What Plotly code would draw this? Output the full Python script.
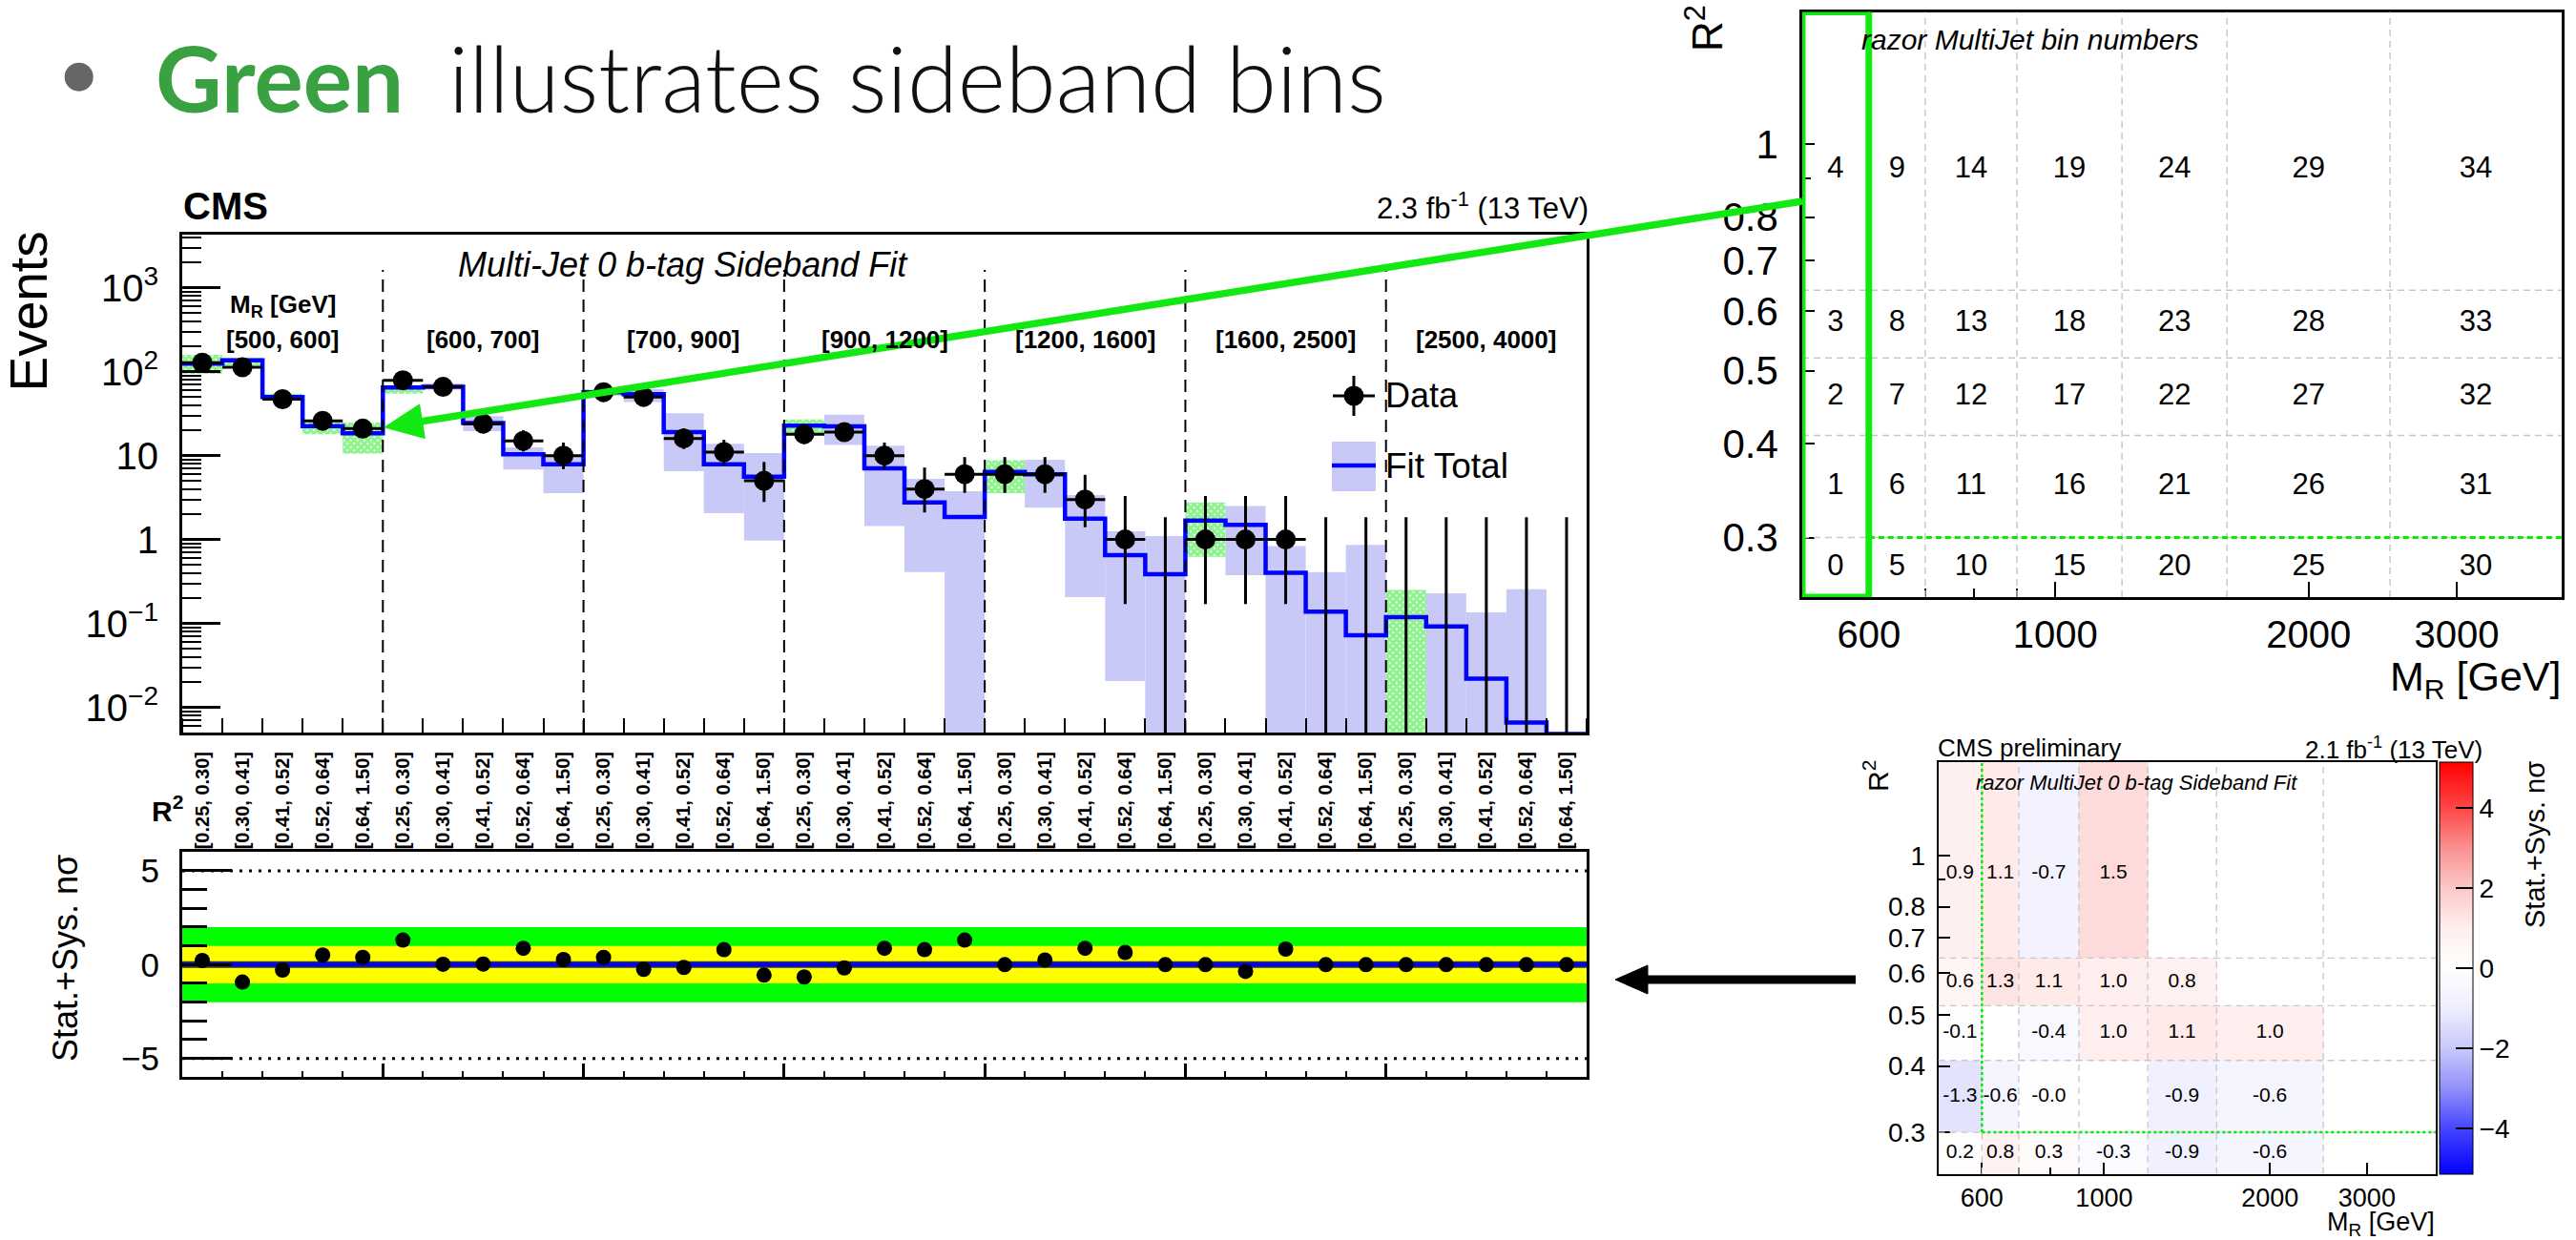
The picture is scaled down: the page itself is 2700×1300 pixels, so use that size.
import math
import plotly.graph_objects as go

W, H = 2700, 1300

# ---------------- binning ----------------
mr_bins = ["[500, 600]", "[600, 700]", "[700, 900]", "[900, 1200]",
           "[1200, 1600]", "[1600, 2500]", "[2500, 4000]"]
r2_bins = ["[0.25, 0.30]", "[0.30, 0.41]", "[0.41, 0.52]", "[0.52, 0.64]", "[0.64, 1.50]"]
mr_edges = [500, 600, 700, 900, 1200, 1600, 2500, 4000]
r2_edges = [0.25, 0.30, 0.41, 0.52, 0.64, 1.5]

# ---------------- 1D unrolled fit (35 bins) ----------------
data_counts = [128, 113, 47, 26, 21, 79, 66, 24, 15, 10, 57, 50, 16, 11, 5,
               18, 19, 10, 4, 6, 6, 6, 3, 1, 0, 1, 1, 1, 0, 0, 0, 0, 0, 0, 0]
data_err_lo = [11.2, 10.6, 6.8, 5.1, 4.6, 8.9, 8.1, 4.9, 3.8, 3.1, 7.5, 7.1, 4.0, 3.3, 2.2,
               4.2, 4.3, 3.1, 1.9, 2.4, 2.4, 2.4, 1.6, 0.83, 0.0, 0.83, 0.83, 0.83,
               0.0, 0.0, 0.0, 0.0, 0.0, 0.0, 0.0]
data_err_hi = [12.3, 11.6, 7.9, 6.1, 5.6, 9.9, 9.1, 5.9, 5.0, 4.3, 8.6, 8.1, 5.1, 4.4, 3.4,
               5.3, 5.4, 4.3, 3.2, 3.6, 3.6, 3.6, 2.9, 2.3, 1.84, 2.3, 2.3, 2.3,
               1.84, 1.84, 1.84, 1.84, 1.84, 1.84, 1.84]
fit_total = [125, 137, 50, 22.4, 18.5, 65, 66, 24.4, 10.4, 7.9, 57, 54, 19, 7.9, 5.6,
             22.8, 22.3, 7.05, 2.77, 1.86, 6.37, 6.0, 1.77, 0.65, 0.386, 1.68, 1.49, 0.40,
             0.138, 0.072, 0.119, 0.092, 0.022, 0.0066, 0.0048]
# fit uncertainty band; 0.001 means the band runs below the axis floor
band_lo = [94, 119, 46, 18, 10.6, 54.5, 61, 19.6, 6.8, 3.56, 52, 43.5, 6.5, 2.06, 0.97,
           18.6, 13.4, 1.45, 0.41, 0.001, 3.56, 2.39, 0.206, 0.0206, 0.001, 0.62, 0.375, 0.001,
           0.001, 0.001, 0.001, 0.001, 0.001, 0.001, None]
band_hi = [159, 146, 54.5, 25.5, 24.7, 66.5, 72.6, 29.5, 12.5, 9.7, 62, 62, 32, 13.8, 10.7,
           27, 30.7, 13.1, 5.3, 3.75, 8.8, 8.95, 3.39, 1.25, 1.1, 2.77, 2.51, 0.835,
           0.41, 0.86, 0.25, 0.228, 0.135, 0.256, None]
pulls = [0.22, -0.93, -0.29, 0.51, 0.39, 1.31, 0.02, 0.03, 0.87, 0.27, 0.39, -0.25, -0.15, 0.80,
         -0.56, -0.66, -0.18, 0.87, 0.80, 1.31, 0.0, 0.25, 0.87, 0.65, 0.0, 0.0, -0.36, 0.83,
         0.0, 0.0, 0.0, 0.0, 0.0, 0.0, 0.0]

# ---------------- 2D maps (rows: R2 bins, columns: MR bins) ----------------
bin_numbers = [
    [0, 5, 10, 15, 20, 25, 30],
    [1, 6, 11, 16, 21, 26, 31],
    [2, 7, 12, 17, 22, 27, 32],
    [3, 8, 13, 18, 23, 28, 33],
    [4, 9, 14, 19, 24, 29, 34],
]
pull_map = [
    [0.2, 0.8, 0.3, -0.3, -0.9, -0.6, None],
    [-1.3, -0.6, -0.04, None, -0.9, -0.6, None],
    [-0.1, None, -0.4, 1.0, 1.1, 1.0, None],
    [0.6, 1.3, 1.1, 1.0, 0.8, None, None],
    [0.9, 1.1, -0.7, 1.5, None, None, None],
]

# ---------------- helpers ----------------
FONT = "Liberation Sans"
GREEN = "#12e812"
LAV = "#c9c9f7"
AXIS_FLOOR = 1e-3


def px(x):
    return x / W


def py(y):
    return 1 - y / H


n_mr, n_r2 = len(mr_bins), len(r2_bins)
nb = n_mr * n_r2
centers = [k + 0.5 for k in range(nb)]
tick_text = [r for m in mr_bins for r in r2_bins]
sideband = [(k // n_r2 == 0) or (k % n_r2 == 0) for k in range(nb)]

fig = go.Figure()

# ---------------- main panel ----------------
blue_k = [k for k in range(nb) if not sideband[k] and band_lo[k] is not None]
green_k = [k for k in range(nb) if sideband[k] and band_lo[k] is not None]

fig.add_trace(go.Bar(
    x=[centers[k] for k in blue_k], base=[band_lo[k] for k in blue_k],
    y=[band_hi[k] - band_lo[k] for k in blue_k], width=1,
    marker=dict(color=LAV, line=dict(width=0)), xaxis="x", yaxis="y",
    showlegend=False, hoverinfo="skip"))
fig.add_trace(go.Bar(
    x=[centers[k] for k in green_k], base=[band_lo[k] for k in green_k],
    y=[band_hi[k] - band_lo[k] for k in green_k], width=1,
    marker=dict(color="rgba(0,0,0,0)", line=dict(width=0),
                pattern=dict(shape="x", fgcolor="#1ee81e", bgcolor="rgba(255,255,255,0)",
                             size=5, solidity=0.85)),
    xaxis="x", yaxis="y", showlegend=False, hoverinfo="skip"))

fig.add_trace(go.Scatter(
    x=list(range(nb + 1)), y=fit_total + [fit_total[-1]], mode="lines",
    line=dict(color="#0000ff", width=4.5, shape="hv"),
    xaxis="x", yaxis="y", showlegend=False, hoverinfo="skip"))

ex, ey = [], []
for k, n in enumerate(data_counts):
    c = centers[k]
    lo = n - data_err_lo[k] if n > 0 else AXIS_FLOOR
    ex += [c, c, None]
    ey += [lo, n + data_err_hi[k], None]
    if n > 0:
        ex += [k, k + 1, None]
        ey += [n, n, None]
fig.add_trace(go.Scatter(x=ex, y=ey, mode="lines", line=dict(color="black", width=3),
                         xaxis="x", yaxis="y", showlegend=False, hoverinfo="skip"))
nz = [k for k in range(nb) if data_counts[k] > 0]
fig.add_trace(go.Scatter(x=[centers[k] for k in nz], y=[data_counts[k] for k in nz],
                         mode="markers", marker=dict(color="black", size=21),
                         xaxis="x", yaxis="y", showlegend=False, hoverinfo="skip"))

# ---------------- pull panel ----------------
fig.add_trace(go.Scatter(x=centers, y=pulls, mode="markers",
                         marker=dict(color="black", size=16),
                         xaxis="x2", yaxis="y2", showlegend=False, hoverinfo="skip"))

# ---------------- bin-number panel ----------------
def gmean(a, b):
    return math.sqrt(a * b)


mr_mid = [gmean(mr_edges[i], mr_edges[i + 1]) for i in range(n_mr)]
r2_mid = [gmean(r2_edges[j], r2_edges[j + 1]) for j in range(n_r2 - 1)] + [0.925]

tx, ty, tt = [], [], []
for j in range(n_r2):
    for i in range(n_mr):
        tx.append(mr_mid[i])
        ty.append(r2_mid[j])
        tt.append(str(bin_numbers[j][i]))
fig.add_trace(go.Scatter(x=tx, y=ty, text=tt, mode="text",
                         textfont=dict(family=FONT, size=31, color="black"),
                         xaxis="x3", yaxis="y3", showlegend=False, hoverinfo="skip"))

# ---------------- pull map panel ----------------
colorscale_pts = [(-5.15, (0, 0, 255)), (-4, (70, 70, 255)), (-3, (145, 145, 250)),
                  (-2, (200, 200, 252)), (-1, (238, 238, 255)), (0, (255, 255, 255)),
                  (1, (255, 238, 238)), (2, (252, 200, 200)), (3, (250, 145, 145)),
                  (4, (255, 70, 70)), (5.15, (255, 0, 0))]
ZMIN, ZMAX = -5.15, 5.15
cscale = [[(v - ZMIN) / (ZMAX - ZMIN), "rgb(%d,%d,%d)" % c] for v, c in colorscale_pts]

fig.add_trace(go.Heatmap(
    x=mr_edges, y=r2_edges, z=pull_map, colorscale=cscale, zmin=ZMIN, zmax=ZMAX,
    xaxis="x4", yaxis="y4", hoverinfo="skip", xgap=0, ygap=0,
    colorbar=dict(x=px(2556.6), xanchor="left", thickness=35, thicknessmode="pixels",
                  len=(1231 - 799) / H, lenmode="fraction", y=py(1015), yanchor="middle",
                  tickvals=[-4, -2, 0, 2, 4], ticktext=["\u22124", "\u22122", "0", "2", "4"],
                  ticks="inside", ticklen=18, tickwidth=2, tickcolor="black",
                  outlinewidth=1, outlinecolor="black", xpad=0, ypad=0,
                  tickfont=dict(family=FONT, size=28, color="black"))))

hx, hy, ht = [], [], []
for j in range(n_r2):
    for i in range(n_mr):
        v = pull_map[j][i]
        if v is not None:
            hx.append(mr_mid[i])
            hy.append(r2_mid[j])
            ht.append(f"{v:.1f}")
fig.add_trace(go.Scatter(x=hx, y=hy, text=ht, mode="text",
                         textfont=dict(family=FONT, size=21, color="black"),
                         xaxis="x4", yaxis="y4", showlegend=False, hoverinfo="skip"))

# ---------------- axes ----------------
main_dom_x = [px(191), px(1663)]
ax_common = dict(showgrid=False, zeroline=False, showline=True, linecolor="black",
                 mirror=True, tickcolor="black")

y_major = [0.01, 0.1, 1, 10, 100, 1000]
y_major_txt = ["10<sup>\u22122</sup>", "10<sup>\u22121</sup>", "1", "10",
               "10<sup>2</sup>", "10<sup>3</sup>"]
y_minor = [m * 10 ** e for e in range(-3, 4) for m in range(2, 10)]

fig.update_layout(
    width=W, height=H, margin=dict(l=0, r=0, t=0, b=0), autosize=False,
    paper_bgcolor="white", plot_bgcolor="rgba(0,0,0,0)", barmode="overlay",
    showlegend=False,
    xaxis=dict(**ax_common, domain=main_dom_x, range=[0, nb], linewidth=3,
               tickmode="array", tickvals=centers, ticktext=tick_text, ticks="",
               tickangle=-90, ticklabelstandoff=9,
               tickfont=dict(family=FONT, size=20, color="black", weight="bold"),
               minor=dict(tickmode="array", tickvals=list(range(nb + 1)), ticks="inside",
                          ticklen=15, tickwidth=2, tickcolor="black", showgrid=False)),
    yaxis=dict(**ax_common, domain=[py(768), py(246)], type="log",
               range=[math.log10(0.005), math.log10(4300)], linewidth=3,
               tickmode="array", tickvals=y_major, ticktext=y_major_txt,
               ticks="inside", ticklen=40, tickwidth=3, ticklabelstandoff=14,
               tickfont=dict(family=FONT, size=40, color="black"),
               minor=dict(tickmode="array", tickvals=y_minor, ticks="inside",
                          ticklen=20, tickwidth=2, tickcolor="black", showgrid=False)),
    xaxis2=dict(**ax_common, domain=main_dom_x, range=[0, nb], linewidth=3, anchor="y2",
                tickmode="array", tickvals=list(range(0, nb + 1, 5)), showticklabels=False,
                ticks="inside", ticklen=14, tickwidth=3,
                minor=dict(tickmode="array", tickvals=list(range(nb + 1)), ticks="inside",
                           ticklen=6, tickwidth=2, tickcolor="black", showgrid=False)),
    yaxis2=dict(**ax_common, domain=[py(1129.3), py(893.3)], range=[-6, 6], linewidth=3,
                anchor="x2", tickmode="array", tickvals=[-5, 0, 5],
                ticktext=["\u22125", "0", "5"], ticks="inside", ticklen=52, tickwidth=3,
                ticklabelstandoff=14,
                tickfont=dict(family=FONT, size=35, color="black"),
                minor=dict(tickmode="array", tickvals=[-4, -3, -2, -1, 1, 2, 3, 4],
                           ticks="inside", ticklen=26, tickwidth=3, tickcolor="black",
                           showgrid=False)),
    xaxis3=dict(**ax_common, domain=[px(1889), px(2685)], type="log", anchor="y3",
                range=[math.log10(500), math.log10(4000)], linewidth=2.5,
                tickmode="array", tickvals=[600, 1000, 2000, 3000],
                ticktext=["600", "1000", "2000", "3000"], ticks="inside", ticklen=16,
                tickwidth=2, ticklabelstandoff=2,
                tickfont=dict(family=FONT, size=40, color="black"),
                minor=dict(tickmode="array", tickvals=[700, 800, 900], ticks="inside",
                           ticklen=9, tickwidth=2, tickcolor="black", showgrid=False)),
    yaxis3=dict(**ax_common, domain=[py(626), py(12.5)], type="log", anchor="x3",
                range=[math.log10(0.25), math.log10(1.5)], linewidth=2.5,
                tickmode="array", tickvals=[0.3, 0.4, 0.5, 0.6, 0.7, 0.8, 1],
                ticktext=["0.3", "0.4", "0.5", "0.6", "0.7", "0.8", "1"],
                ticks="inside", ticklen=13, tickwidth=2, ticklabelstandoff=14,
                tickfont=dict(family=FONT, size=42, color="black"),
                minor=dict(tickmode="array", tickvals=[0.9], ticks="inside",
                           ticklen=9, tickwidth=2, tickcolor="black", showgrid=False)),
    xaxis4=dict(**ax_common, domain=[px(2031.6), px(2553)], type="log", anchor="y4",
                range=[math.log10(500), math.log10(4000)], linewidth=2,
                tickmode="array", tickvals=[600, 1000, 2000, 3000],
                ticktext=["600", "1000", "2000", "3000"], ticks="inside", ticklen=12,
                tickwidth=1.5, ticklabelstandoff=0,
                tickfont=dict(family=FONT, size=27, color="black"),
                minor=dict(tickmode="array", tickvals=[700, 800, 900], ticks="inside",
                           ticklen=7, tickwidth=1.5, tickcolor="black", showgrid=False)),
    yaxis4=dict(**ax_common, domain=[py(1231), py(799)], type="log", anchor="x4",
                range=[math.log10(0.25), math.log10(1.5)], linewidth=2,
                tickmode="array", tickvals=[0.3, 0.4, 0.5, 0.6, 0.7, 0.8, 1],
                ticktext=["0.3", "0.4", "0.5", "0.6", "0.7", "0.8", "1"],
                ticks="inside", ticklen=12, tickwidth=1.5, ticklabelstandoff=6,
                tickfont=dict(family=FONT, size=28, color="black"),
                minor=dict(tickmode="array", tickvals=[0.9], ticks="inside",
                           ticklen=7, tickwidth=1.5, tickcolor="black", showgrid=False)),
)

shapes = []

# MR group separators in the unrolled panel
for g in range(1, n_mr):
    shapes.append(dict(type="line", xref="x", yref="y domain", x0=g * n_r2, x1=g * n_r2,
                       y0=0, y1=0.929, line=dict(color="black", width=2, dash="13px,8px"),
                       layer="above"))

# pull panel bands and reference lines
shapes += [
    dict(type="rect", xref="x2", yref="y2", x0=0, x1=nb, y0=-2, y1=2,
         fillcolor="#00ff00", line=dict(width=0), layer="below"),
    dict(type="rect", xref="x2", yref="y2", x0=0, x1=nb, y0=-1, y1=1,
         fillcolor="#ffff00", line=dict(width=0), layer="below"),
    dict(type="line", xref="x2", yref="y2", x0=0, x1=nb, y0=0, y1=0,
         line=dict(color="#333333", width=7), layer="below"),
    dict(type="line", xref="x2", yref="y2", x0=0, x1=nb, y0=0, y1=0,
         line=dict(color="#0000ff", width=4), layer="below"),
    dict(type="line", xref="x2", yref="y2", x0=0, x1=nb, y0=5, y1=5,
         line=dict(color="black", width=3, dash="3px,7px"), layer="below"),
    dict(type="line", xref="x2", yref="y2", x0=0, x1=nb, y0=-5, y1=-5,
         line=dict(color="black", width=3, dash="3px,7px"), layer="below"),
]

# dashed bin grid in the two 2D panels
for xa, ya, lw in (("x3", "y3", 1.5), ("x4", "y4", 1.3)):
    for e in mr_edges[1:-1]:
        shapes.append(dict(type="line", xref=xa, yref=ya + " domain", x0=e, x1=e, y0=0, y1=1,
                           line=dict(color="#c8c8c8", width=lw, dash="7px,5px"),
                           layer="above"))
    for e in r2_edges[1:-1]:
        shapes.append(dict(type="line", xref=xa + " domain", yref=ya, x0=0, x1=1, y0=e, y1=e,
                           line=dict(color="#c8c8c8", width=lw, dash="7px,5px"),
                           layer="above"))

# sideband boundary markings
shapes += [
    dict(type="line", xref="x3", yref="y3", x0=mr_edges[1], x1=mr_edges[-1],
         y0=r2_edges[1], y1=r2_edges[1], line=dict(color="#00ee00", width=3, dash="6px,4px"),
         layer="above"),
    dict(type="rect", xref="x3", yref="y3", x0=mr_edges[0], x1=mr_edges[1],
         y0=r2_edges[0], y1=r2_edges[-1], line=dict(color=GREEN, width=7), layer="above"),
    dict(type="line", xref="x4", yref="y4", x0=mr_edges[1], x1=mr_edges[-1],
         y0=r2_edges[1], y1=r2_edges[1], line=dict(color="#00ee00", width=2.5, dash="3px,3px"),
         layer="above"),
    dict(type="line", xref="x4", yref="y4", x0=mr_edges[1], x1=mr_edges[1],
         y0=r2_edges[1], y1=r2_edges[-1], line=dict(color="#00ee00", width=2.5, dash="3px,3px"),
         layer="above"),
]


def arrow(tail, tip, color, width, head_len, head_half):
    (x0, y0), (x1, y1) = tail, tip
    d = math.hypot(x1 - x0, y1 - y0)
    ux, uy = (x1 - x0) / d, (y1 - y0) / d
    bx, by = x1 - ux * head_len, y1 - uy * head_len
    nx, ny = -uy, ux
    out = [dict(type="line", xref="paper", yref="paper", x0=px(x0), y0=py(y0),
                x1=px(bx + ux * 2), y1=py(by + uy * 2),
                line=dict(color=color, width=width), layer="above")]
    path = "M %f %f L %f %f L %f %f Z" % (
        px(x1), py(y1),
        px(bx + nx * head_half), py(by + ny * head_half),
        px(bx - nx * head_half), py(by - ny * head_half))
    out.append(dict(type="path", xref="paper", yref="paper", path=path,
                    fillcolor=color, line=dict(color=color, width=1), layer="above"))
    return out


shapes += arrow((1889, 211), (403, 448), GREEN, 7.5, 40, 18)
shapes += arrow((1945, 1027), (1693, 1027), "black", 9, 34, 15)

# slide bullet
shapes.append(dict(type="circle", xref="paper", yref="paper", x0=px(67.7), x1=px(97.7),
                   y0=py(95.7), y1=py(65.7), fillcolor="#666666", line=dict(width=0)))

# legend of the unrolled panel
shapes += [
    dict(type="rect", xref="paper", yref="paper", x0=px(1396), x1=px(1442),
         y0=py(515), y1=py(463), fillcolor=LAV, line=dict(width=0), layer="above"),
    dict(type="line", xref="paper", yref="paper", x0=px(1396), x1=px(1442),
         y0=py(488), y1=py(488), line=dict(color="#0000ff", width=4.5), layer="above"),
    dict(type="line", xref="paper", yref="paper", x0=px(1397), x1=px(1441),
         y0=py(415), y1=py(415), line=dict(color="black", width=3), layer="above"),
    dict(type="line", xref="paper", yref="paper", x0=px(1419), x1=px(1419),
         y0=py(394), y1=py(436), line=dict(color="black", width=3), layer="above"),
    dict(type="circle", xref="paper", yref="paper", x0=px(1408.5), x1=px(1429.5),
         y0=py(425.5), y1=py(404.5), fillcolor="black", line=dict(width=0), layer="above"),
]
fig.update_layout(shapes=shapes)

ann = []


def text(x, y, s, size, xanchor="center", yanchor="middle", angle=0, family=FONT,
         color="black", weight="normal", xref="paper"):
    ann.append(dict(x=x if xref != "paper" else px(x), y=py(y), xref=xref, yref="paper",
                    text=s, showarrow=False, xanchor=xanchor, yanchor=yanchor,
                    textangle=angle, borderpad=0,
                    font=dict(family=family, size=size, color=color, weight=weight)))


# slide headline
text(162, 81, "<b>Green</b>", 96, xanchor="left", family="Lato", color="#3aa142")
text(469, 81, "illustrates sideband bins", 96, xanchor="left", family="Lato",
     color="#111111", weight=300)

# unrolled panel labels
text(191, 215.5, "<b>CMS</b>", 40, xanchor="left")
text(1666, 216, "2.3 fb<sup>-1</sup> (13 TeV)", 31, xanchor="right")
text(29, 326.5, "Events", 55, angle=-90)
text(716, 277.6, "<i>Multi-Jet 0 b-tag Sideband Fit</i>", 36)
text(n_r2 / 2, 320, "<b>M<sub>R</sub> [GeV]</b>", 26, xref="x")
for i, lab in enumerate(mr_bins):
    text(i * n_r2 + n_r2 / 2, 356, "<b>" + lab + "</b>", 26, xref="x")
text(1451, 415, "Data", 36, xanchor="left")
text(1451, 488, "Fit Total", 37, xanchor="left")
text(176, 848, "<b>R<sup>2</sup></b>", 30)
text(68, 1005, "Stat.+Sys. n\u03c3", 36, angle=-90)

# bin-number panel labels
text(1786, 30, "R<sup>2</sup>", 44, angle=-90)
text(2685, 712, "M<sub>R</sub> [GeV]", 43, xanchor="right")
text(1950, 42, "<i>razor MultiJet bin numbers</i>", 30, xanchor="left")

# pull map panel labels
text(2030, 784, "CMS preliminary", 26, xanchor="left")
text(2603, 784, "2.1 fb<sup>-1</sup> (13 TeV)", 26, xanchor="right")
text(2070, 820, "<i>razor MultiJet 0 b-tag Sideband Fit</i>", 22, xanchor="left")
text(1966, 813, "R<sup>2</sup>", 30, angle=-90)
text(2553, 1283, "M<sub>R</sub> [GeV]", 27, xanchor="right")
text(2657, 886, "Stat.+Sys. n\u03c3", 29, angle=-90)

fig.update_layout(annotations=ann)

fig.write_html("out.html")
